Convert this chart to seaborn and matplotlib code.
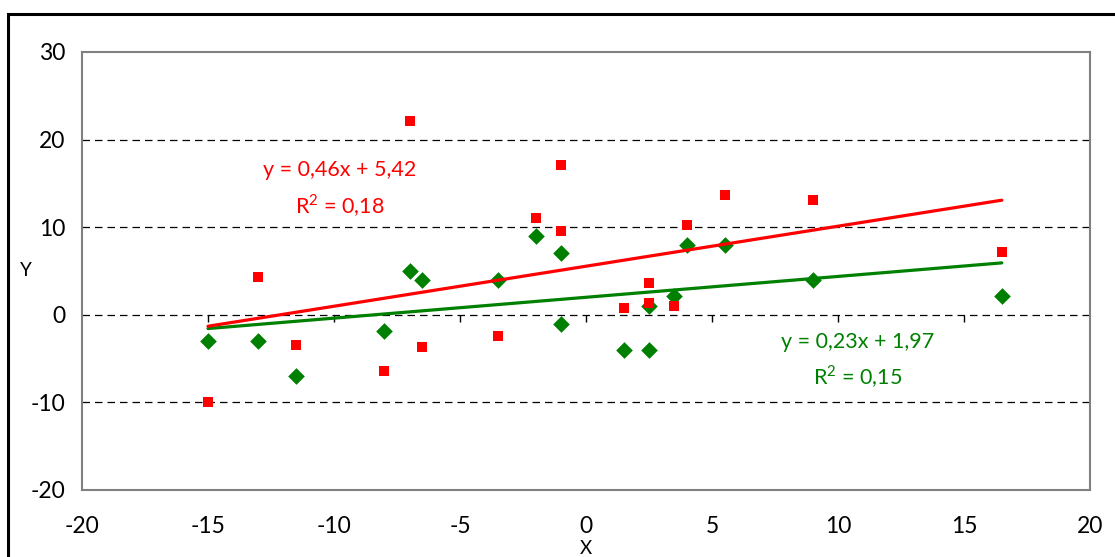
import numpy as np
import pandas as pd
import matplotlib
matplotlib.use("Agg")
import matplotlib.pyplot as plt
import matplotlib.patches as mpatches
import seaborn as sns

# ---- data ----
x_vals = [-15, -13, -11.5, -8, -7, -6.5, -3.5, -2, -1, -1,
          1.5, 2.5, 2.5, 3.5, 4, 5.5, 9, 16.5]
red_y = [-10, 4.3, -3.5, -6.4, 22.1, -3.7, -2.4, 11.1, 17.1, 9.6,
         0.8, 3.6, 1.3, 1.0, 10.2, 13.7, 13.1, 7.2]
green_y = [-3, -3, -7, -1.9, 5, 4, 4, 9, 7.1, -1,
           -4, -4, 1, 2.1, 8, 8, 4, 2.1]

red_eq = "y = 0,46x + 5,42"
red_r2 = "R$^2$ = 0,18"
green_eq = "y = 0,23x + 1,97"
green_r2 = "R$^2$ = 0,15"

x_ticks = [-20, -15, -10, -5, 0, 5, 10, 15, 20]
y_ticks = [-20, -10, 0, 10, 20, 30]

df = pd.DataFrame({"x": x_vals, "red": red_y, "green": green_y})

sns.set_theme(style="white")
plt.rcParams["font.family"] = ["Lato", "DejaVu Sans"]
plt.rcParams["mathtext.fontset"] = "custom"
plt.rcParams["mathtext.rm"] = "Lato"

RED = "#FF0000"
GREEN = "#008000"

fig = plt.figure(figsize=(11.15, 5.57), dpi=100)
ax = fig.add_axes([82 / 1115, (557 - 490) / 557, (1090 - 82) / 1115, (490 - 52) / 557])

# gridlines
for yv in [-10, 0, 10, 20]:
    ax.axhline(yv, color="black", lw=0.9, ls=(0, (6, 4)), zorder=1)

sns.regplot(data=df, x="x", y="green", ax=ax, ci=None, truncate=True, marker="D",
            scatter_kws=dict(s=72, color=GREEN, alpha=1, linewidths=0, zorder=2),
            line_kws=dict(color=GREEN, lw=2.3, zorder=4))
sns.regplot(data=df, x="x", y="red", ax=ax, ci=None, truncate=True, marker="s",
            scatter_kws=dict(s=62, color=RED, alpha=1, linewidths=0, zorder=3),
            line_kws=dict(color=RED, lw=2.3, zorder=5))

ax.set_xlim(-20, 20)
ax.set_ylim(-20, 30)
ax.set_xticks(x_ticks)
ax.set_yticks(y_ticks)
ax.set_xticklabels([str(t) for t in x_ticks])
ax.set_yticklabels([str(t) for t in y_ticks])
ax.tick_params(axis="x", length=0, pad=19, labelsize=16.5, colors="black")
ax.tick_params(axis="y", length=0, pad=12, labelsize=16.5, colors="black")

for s in ax.spines.values():
    s.set_color("#808080")
    s.set_linewidth(1.5)
    s.set_visible(True)

# x-axis tick marks on the zero line
sec = ax.secondary_xaxis(0.4)
sec.set_xticks(x_ticks[1:-1])
sec.tick_params(axis="x", direction="out", length=5, width=1, color="black", labelbottom=False, labelsize=1)
sec.spines["bottom"].set_visible(False)
sec.set_xticklabels([])

ax.set_xlabel("X", fontsize=13.5, color="black", va="center")
ax.xaxis.set_label_coords(0.5, (490 - 549) / 438)
ax.set_ylabel("Y", fontsize=13.5, color="black", rotation=0, va="center", ha="center")
ax.yaxis.set_label_coords((26 - 82) / 1008, (490 - 270) / 438)

# equations
fs = 15.5
ax.text(-9.76, 16.55, red_eq, color=RED, fontsize=fs, ha="center", va="center")
ax.text(-9.76, 12.5, red_r2, color=RED, fontsize=fs, ha="center", va="center")
ax.text(10.79, -3.1, green_eq, color=GREEN, fontsize=fs, ha="center", va="center")
ax.text(10.79, -7.1, green_r2, color=GREEN, fontsize=fs, ha="center", va="center")

# chart area border
fig.patches.append(mpatches.Rectangle((8 / 1115, -0.05), 1.2, 1 - 14 / 557 + 0.05,
                                      transform=fig.transFigure, fill=False,
                                      edgecolor="black", lw=2.2, zorder=0))

fig.savefig("out.png", dpi=100)
